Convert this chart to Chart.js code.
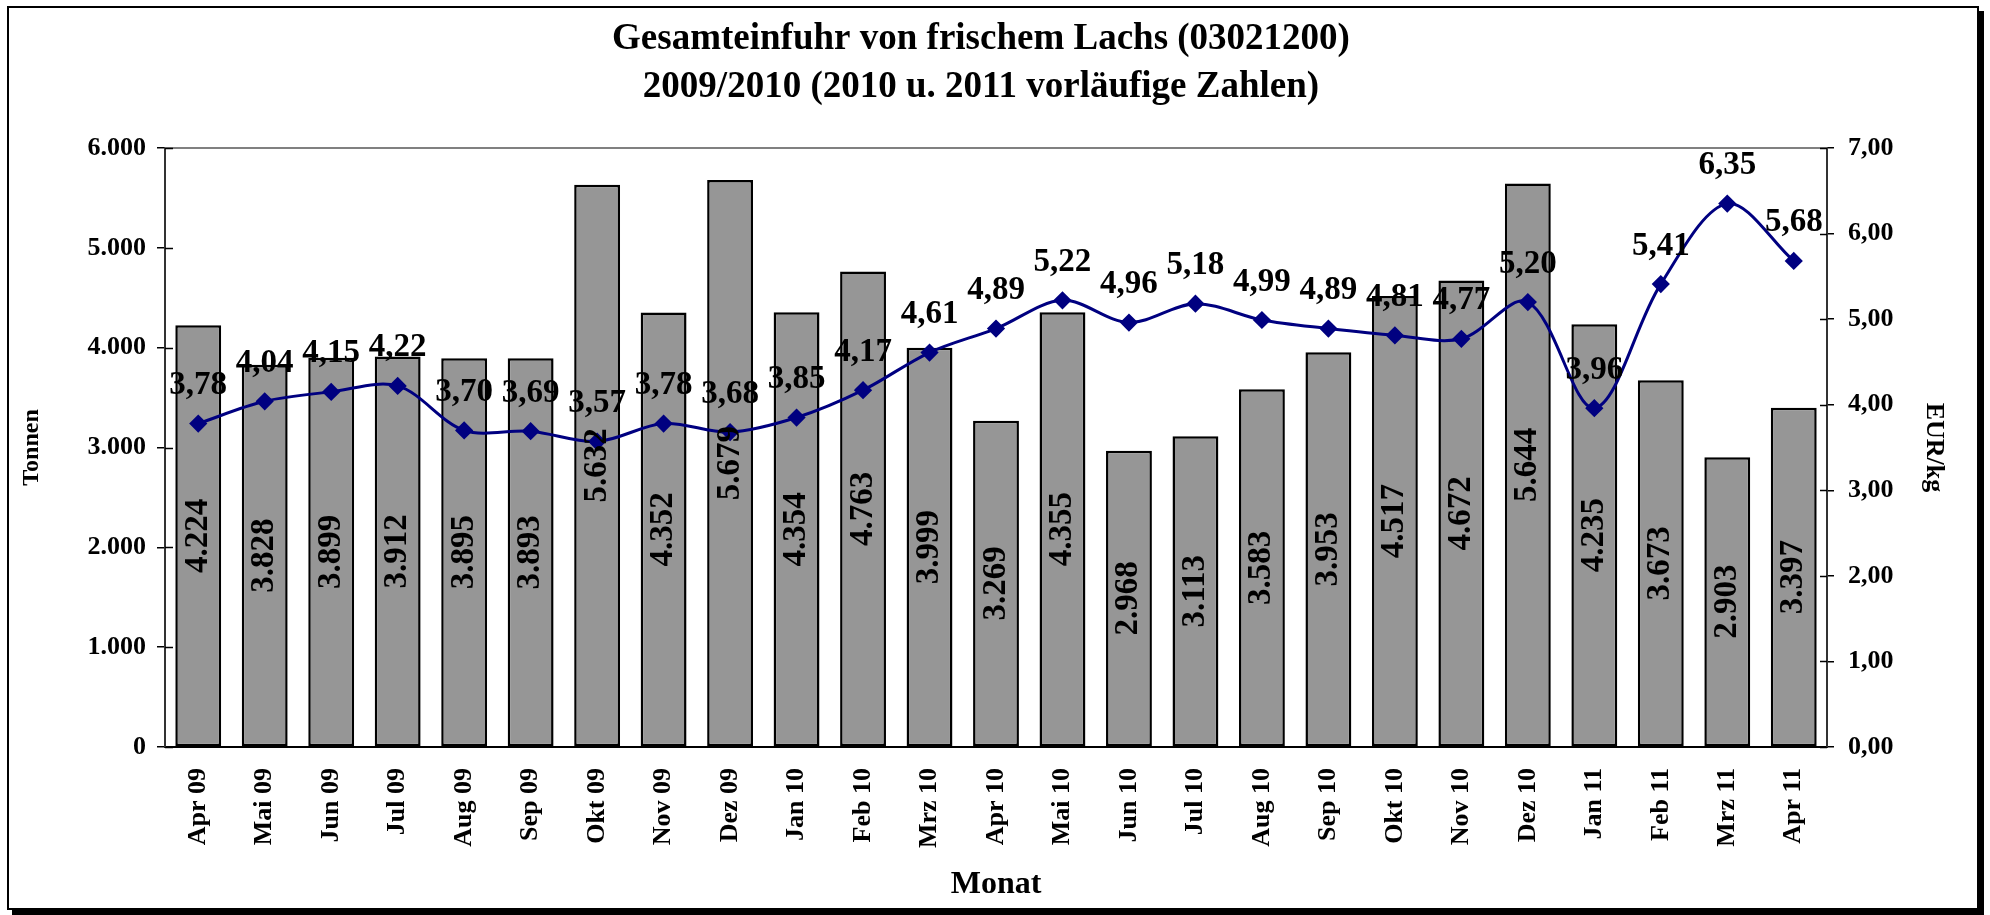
<!DOCTYPE html>
<html>
<head>
<meta charset="utf-8">
<script src="https://cdn.jsdelivr.net/npm/chart.js@4/dist/chart.umd.min.js"></script>
<style>
  body { margin: 0; background: #fff; }
  #wrap { position: relative; width: 1990px; height: 915px; }
  #frame {
    position: absolute; left: 7px; top: 6px; width: 1968px; height: 900px;
    border: 2px solid #000; box-shadow: 5px 5px 0 #000; pointer-events: none;
  }
</style>
</head>
<body>
<div id="wrap">
  <canvas id="chartLachs" width="1990" height="915"></canvas>
  <div id="frame"></div>
</div>
<script>
// Daten
const months = ["Apr 09", "Mai 09", "Jun 09", "Jul 09", "Aug 09", "Sep 09", "Okt 09", "Nov 09", "Dez 09",
  "Jan 10", "Feb 10", "Mrz 10", "Apr 10", "Mai 10", "Jun 10", "Jul 10", "Aug 10", "Sep 10", "Okt 10",
  "Nov 10", "Dez 10", "Jan 11", "Feb 11", "Mrz 11", "Apr 11"];
const tonnen = [4224, 3828, 3899, 3912, 3895, 3893, 5632, 4352, 5679, 4354, 4763, 3999, 3269,
  4355, 2968, 3113, 3583, 3953, 4517, 4672, 5644, 4235, 3673, 2903, 3397];
const eurKg = [3.78, 4.04, 4.15, 4.22, 3.70, 3.69, 3.57, 3.78, 3.68, 3.85, 4.17, 4.61, 4.89,
  5.22, 4.96, 5.18, 4.99, 4.89, 4.81, 4.77, 5.20, 3.96, 5.41, 6.35, 5.68];
const leftTicks = ["0", "1.000", "2.000", "3.000", "4.000", "5.000", "6.000"];
const rightTicks = ["0,00", "1,00", "2,00", "3,00", "4,00", "5,00", "6,00", "7,00"];

const FONT = "'Liberation Serif', 'Times New Roman', serif";

function fmtTonnen(v) {
  const s = String(Math.round(v));
  return s.length > 3 ? s.slice(0, -3) + "." + s.slice(-3) : s;
}
function fmtEur(v) {
  return v.toFixed(2).replace(".", ",");
}

// Werte, kleine Ticks nach innen, Rahmen oben
const extras = {
  id: "extras",
  beforeDatasetsDraw(chart) {
    const { ctx, chartArea } = chart;
    ctx.save();
    ctx.strokeStyle = "#808080";
    ctx.lineWidth = 2;
    ctx.beginPath();
    ctx.moveTo(chartArea.left, chartArea.top);
    ctx.lineTo(chartArea.right, chartArea.top);
    ctx.stroke();

    ctx.strokeStyle = "#000";
    ctx.lineWidth = 1.5;
    const yl = chart.scales.y;
    yl.ticks.forEach((t, i) => {
      const py = Math.round(yl.getPixelForTick(i)) + 0.5;
      ctx.beginPath();
      ctx.moveTo(chartArea.left, py);
      ctx.lineTo(chartArea.left + 8, py);
      ctx.stroke();
    });
    const yr = chart.scales.y2;
    yr.ticks.forEach((t, i) => {
      const py = Math.round(yr.getPixelForTick(i)) + 0.5;
      ctx.beginPath();
      ctx.moveTo(chartArea.right, py);
      ctx.lineTo(chartArea.right - 7, py);
      ctx.stroke();
    });
    ctx.restore();
  },
  afterDatasetsDraw(chart) {
    const ctx = chart.ctx;
    ctx.save();
    ctx.fillStyle = "#000";
    ctx.font = "bold 33px " + FONT;
    ctx.textAlign = "center";
    ctx.textBaseline = "middle";

    const bars = chart.getDatasetMeta(1).data;
    bars.forEach((bar, i) => {
      const cy = (bar.y + bar.base) / 2;
      ctx.save();
      ctx.translate(bar.x, cy);
      ctx.rotate(-Math.PI / 2);
      ctx.fillText(fmtTonnen(tonnen[i]), 0, 0);
      ctx.restore();
    });

    const pts = chart.getDatasetMeta(0).data;
    pts.forEach((p, i) => {
      ctx.fillText(fmtEur(eurKg[i]), p.x, p.y - 38);
    });
    ctx.restore();
  }
};

const ctx = document.getElementById("chartLachs");

new Chart(ctx, {
  type: "bar",
  data: {
    labels: months,
    datasets: [
      {
        type: "line",
        label: "EUR/kg",
        data: eurKg,
        yAxisID: "y2",
        borderColor: "#000080",
        borderWidth: 3,
        backgroundColor: "#000080",
        pointStyle: "rectRot",
        pointRadius: 7,
        pointBackgroundColor: "#000080",
        pointBorderColor: "#000080",
        tension: 0.33,
        fill: false,
        order: 0
      },
      {
        type: "bar",
        label: "Tonnen",
        data: tonnen,
        yAxisID: "y",
        backgroundColor: "#969696",
        borderColor: "#000",
        borderWidth: 2.5,
        borderSkipped: false,
        barPercentage: 0.69,
        categoryPercentage: 1.0,
        order: 1
      }
    ]
  },
  options: {
    responsive: false,
    animation: false,
    layout: { padding: { top: 0, left: 0, bottom: 0, right: 28 } },
    plugins: {
      legend: { display: false },
      tooltip: { enabled: false },
      title: {
        display: true,
        text: ["Gesamteinfuhr von frischem Lachs (03021200)", "2009/2010 (2010 u. 2011 vorläufige Zahlen)"],
        color: "#000",
        font: { family: FONT, size: 37, weight: "bold", lineHeight: 1.3 },
        padding: { top: 15, bottom: 36.8 }
      }
    },
    scales: {
      x: {
        afterFit: (s) => { s.height = 168; },
        grid: { display: false, drawTicks: false },
        border: { display: true, color: "#000", width: 2 },
        ticks: {
          autoSkip: false,
          minRotation: 90,
          maxRotation: 90,
          padding: 21,
          color: "#000",
          font: { family: FONT, size: 26, weight: "bold" }
        },
        title: {
          display: true,
          text: "Monat",
          color: "#000",
          font: { family: FONT, size: 32, weight: "bold" },
          padding: { top: 0, bottom: 11 }
        }
      },
      y: {
        position: "left",
        min: 0,
        max: 6000,
        afterFit: (s) => { s.width = 165; },
        afterBuildTicks: (s) => {
          s.ticks = leftTicks.map((_, i) => ({ value: i * 1000 }));
        },
        grid: { drawOnChartArea: false, drawTicks: true, tickLength: 8, color: "#000", lineWidth: 1.5 },
        border: { display: true, color: "#333", width: 2 },
        ticks: {
          padding: 11,
          color: "#000",
          font: { family: FONT, size: 26, weight: "bold" },
          callback: (v, i) => leftTicks[i]
        },
        title: {
          display: true,
          text: "Tonnen",
          color: "#000",
          font: { family: FONT, size: 24, weight: "bold" },
          padding: { top: 17, bottom: 0 }
        }
      },
      y2: {
        position: "right",
        min: 0,
        max: 7,
        afterFit: (s) => { s.width = 135; },
        afterBuildTicks: (s) => {
          s.ticks = rightTicks.map((_, i) => ({ value: i }));
        },
        grid: { drawOnChartArea: false, drawTicks: true, tickLength: 7, color: "#000", lineWidth: 1.5 },
        border: { display: true, color: "#333", width: 2 },
        ticks: {
          padding: 14,
          color: "#000",
          font: { family: FONT, size: 26, weight: "bold" },
          callback: (v, i) => rightTicks[i]
        },
        title: {
          display: true,
          text: "EUR/kg",
          color: "#000",
          font: { family: FONT, size: 26, weight: "bold" },
          padding: { top: 13, bottom: 0 }
        }
      }
    }
  },
  plugins: [extras]
});
</script>
</body>
</html>
